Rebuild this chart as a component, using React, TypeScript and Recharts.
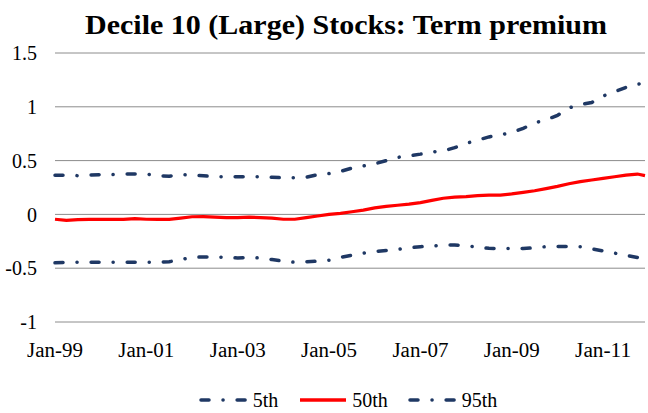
import React from 'react';
import { LineChart, Line, XAxis, YAxis, CartesianGrid } from 'recharts';

const months = [0,3,6,9,12,15,18,21,24,27,30,33,36,39,42,45,48,51,54,57,60,63,66,69,72,75,78,81,84,87,90,93,96,99,102,105,108,111,114,117,120,123,126,129,132,135,138,141,144,147,150,153,155];

const p5 = [-0.45,-0.445,-0.445,-0.445,-0.445,-0.445,-0.445,-0.445,-0.445,-0.445,-0.44,-0.42,-0.40,-0.395,-0.395,-0.40,-0.405,-0.40,-0.405,-0.42,-0.435,-0.445,-0.44,-0.435,-0.425,-0.40,-0.38,-0.36,-0.345,-0.335,-0.325,-0.31,-0.30,-0.295,-0.285,-0.285,-0.29,-0.305,-0.315,-0.318,-0.318,-0.318,-0.31,-0.30,-0.298,-0.298,-0.30,-0.32,-0.34,-0.36,-0.38,-0.40,-0.41];

const p50 = [-0.045,-0.055,-0.048,-0.046,-0.046,-0.046,-0.046,-0.04,-0.045,-0.046,-0.046,-0.035,-0.022,-0.02,-0.025,-0.03,-0.03,-0.025,-0.03,-0.035,-0.045,-0.045,-0.03,-0.015,0.0,0.01,0.025,0.04,0.06,0.075,0.085,0.095,0.11,0.13,0.15,0.16,0.165,0.175,0.18,0.18,0.19,0.205,0.22,0.24,0.26,0.285,0.305,0.32,0.335,0.35,0.365,0.375,0.36];

const p95 = [0.365,0.365,0.36,0.365,0.37,0.37,0.375,0.375,0.375,0.36,0.355,0.37,0.365,0.36,0.35,0.35,0.35,0.35,0.35,0.345,0.34,0.34,0.345,0.37,0.38,0.40,0.43,0.45,0.47,0.50,0.53,0.545,0.56,0.58,0.59,0.62,0.66,0.69,0.72,0.74,0.76,0.80,0.85,0.88,0.92,0.99,1.02,1.04,1.10,1.14,1.18,1.21,1.22];

const tickMonths = [0, 24, 48, 72, 96, 120, 144];
const tickLabels = ['Jan-99', 'Jan-01', 'Jan-03', 'Jan-05', 'Jan-07', 'Jan-09', 'Jan-11'];
const yTicks = [-1, -0.5, 0, 0.5, 1, 1.5];
const title = 'Decile 10 (Large) Stocks: Term premium';

const data = months.map((m, i) => ({ m, p5: p5[i], p50: p50[i], p95: p95[i] }));

const NAVY = '#1f3864';
const RED = '#ff0000';
const FONT = '"Liberation Serif", "DejaVu Serif", serif';
const DASH = '8 14 0.1 14';

const legendItems = [
  { name: '5th', color: NAVY, dashed: true },
  { name: '50th', color: RED, dashed: false },
  { name: '95th', color: NAVY, dashed: true },
];

const LegendContent = () => (
  <div style={{ display: 'flex', justifyContent: 'center', alignItems: 'center', fontFamily: FONT, fontSize: 20, color: '#000', lineHeight: '22px' }}>
    {legendItems.map((it, i) => (
      <div key={it.name} style={{ display: 'flex', alignItems: 'center', marginLeft: i === 0 ? 0 : 20 }}>
        <svg width={50} height={10} style={{ display: 'block' }}>
          <line x1={2} y1={5} x2={48} y2={5} stroke={it.color} strokeWidth={3.5}
            strokeDasharray={it.dashed ? DASH : undefined} strokeLinecap={it.dashed ? 'round' : 'butt'} />
        </svg>
        <span style={{ marginLeft: 4 }}>{it.name}</span>
      </div>
    ))}
  </div>
);

const XTick = (props: any) => {
  const { x, y, payload } = props;
  const label = tickLabels[tickMonths.indexOf(payload.value)] ?? '';
  return (
    <text x={x} y={y + 15} textAnchor="middle" fontFamily={FONT} fontSize={20} fill="#000"
      textLength={56} lengthAdjust="spacingAndGlyphs">
      {label}
    </text>
  );
};

export default function App() {
  return (
    <div style={{ position: 'absolute', left: 0, top: 0, width: 648, height: 413, background: '#fff' }}>
      <LineChart width={648} height={413} data={data} margin={{ top: 53, right: 3, bottom: 61, left: 0 }}>
        <CartesianGrid vertical={false} stroke="#8c8c8c" strokeWidth={1} />
        <XAxis
          dataKey="m"
          type="number"
          domain={[0, 155]}
          ticks={tickMonths}
          axisLine={false}
          tickLine={false}
          tickSize={0}
          tickMargin={20}
          height={30}
          interval={0}
          tick={<XTick />}
        />
        <YAxis
          type="number"
          domain={[-1, 1.5]}
          ticks={yTicks}
          axisLine={false}
          tickLine={false}
          tickSize={0}
          tickMargin={18}
          width={55}
          interval={0}
          tick={{ fontFamily: FONT, fontSize: 20, fill: '#000' }}
        />
        <Line type="linear" dataKey="p5" name="5th" stroke={NAVY} strokeWidth={3.5} strokeDasharray={DASH} strokeLinecap="round" dot={false} isAnimationActive={false} />
        <Line type="linear" dataKey="p95" name="95th" stroke={NAVY} strokeWidth={3.5} strokeDasharray={DASH} strokeLinecap="round" dot={false} isAnimationActive={false} />
        <Line type="linear" dataKey="p50" name="50th" stroke={RED} strokeWidth={3.2} dot={false} isAnimationActive={false} />
      </LineChart>
      <div style={{ position: 'absolute', left: 0, top: 389, width: 696 }}>
        <LegendContent />
      </div>
      <svg width={648} height={50} style={{ position: 'absolute', left: 0, top: 0, pointerEvents: 'none' }}>
        <text x={85} y={34} textLength={522} lengthAdjust="spacingAndGlyphs" fontFamily={FONT} fontWeight="bold" fontSize={27} fill="#000">
          {title}
        </text>
      </svg>
    </div>
  );
}
